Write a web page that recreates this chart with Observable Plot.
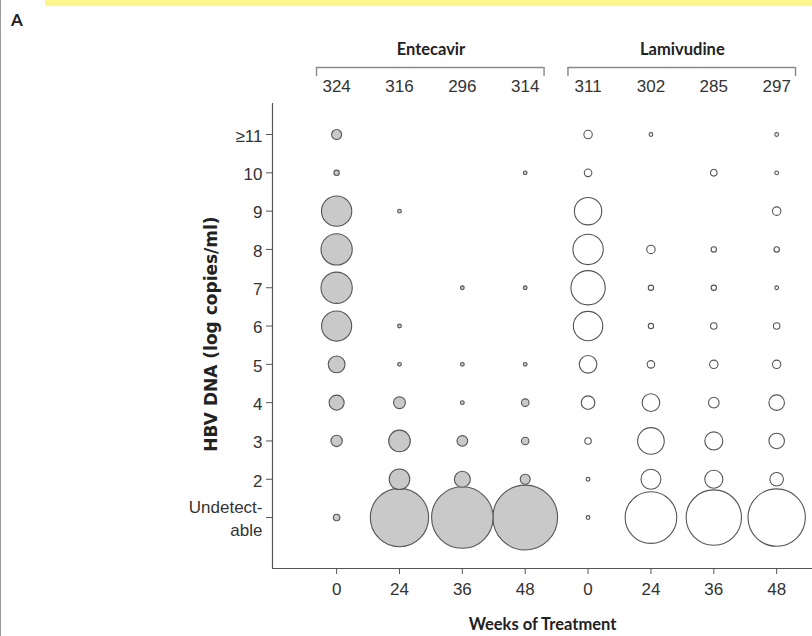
<!DOCTYPE html>
<html><head><meta charset="utf-8">
<script src="https://cdn.jsdelivr.net/npm/d3@7"></script>
<script src="https://cdn.jsdelivr.net/npm/@observablehq/plot@0.6"></script>
<style>
body{margin:0;background:#fff;}
#wrap{position:relative;width:812px;height:636px;overflow:hidden;background:#fff;}
#wrap svg{position:absolute;left:0;top:0;}
#bar{position:absolute;left:45px;top:0;width:767px;height:6px;background:#fcf68e;}
#edge{position:absolute;left:0;top:0;width:1px;height:636px;background:#9a9a9a;}
#panel{position:absolute;left:11px;top:9px;font:bold 17px Lato, "DejaVu Sans", sans-serif;color:#222;}
#wrap svg g[aria-label="y-axis tick label"] text,
#wrap svg g[aria-label="x-axis tick label"] text{
  font-family:"Liberation Sans Narrow","Liberation Sans",sans-serif !important;
  font-size:17px !important; fill:#333;
}
</style></head><body>
<div id="wrap"><div id="bar"></div><div id="edge"></div><div id="panel">A</div></div>
<script>
// ---- data ----
const drugs = ["Entecavir", "Lamivudine"];
const weeks = [0, 24, 36, 48];
const nEntecavir = [324, 316, 296, 314];
const nLamivudine = [311, 302, 285, 297];
const levels = ["Undetect-\nable", "2", "3", "4", "5", "6", "7", "8", "9", "10", "≥11"];
// patient counts per HBV DNA level (Undetectable, 2 ... 10, >=11)
const entecavirWk0  = [3, 0, 9, 16, 20, 64, 69, 69, 65, 2, 7];
const entecavirWk24 = [240, 30, 33, 10, 1, 1, 0, 0, 1, 0, 0];
const entecavirWk36 = [267, 18, 8, 1, 1, 0, 1, 0, 0, 0, 0];
const entecavirWk48 = [296, 7, 4, 4, 1, 0, 1, 0, 0, 1, 0];
const lamivudineWk0  = [1, 1, 3, 13, 22, 61, 83, 65, 53, 4, 5];
const lamivudineWk24 = [188, 28, 50, 22, 4, 2, 2, 5, 0, 0, 1];
const lamivudineWk36 = [216, 23, 23, 8, 5, 3, 2, 2, 0, 3, 0];
const lamivudineWk48 = [232, 13, 17, 17, 5, 3, 1, 2, 5, 1, 1];

// ---- tables built from the arrays ----
const countsByDrug = {
  Entecavir: [entecavirWk0, entecavirWk24, entecavirWk36, entecavirWk48],
  Lamivudine: [lamivudineWk0, lamivudineWk24, lamivudineWk36, lamivudineWk48]
};
const nByDrug = {Entecavir: nEntecavir, Lamivudine: nLamivudine};
const cols = [];
const cells = [];
drugs.forEach((drug, di) => {
  weeks.forEach((wk, wi) => {
    const col = di * weeks.length + wi;
    cols.push({drug, week: wk, col, n: nByDrug[drug][wi]});
    countsByDrug[drug][wi].forEach((c, li) => {
      if (c > 0) cells.push({drug, week: wk, col, level: li, count: c});
    });
  });
});
const groups = drugs.map((name, i) => ({name, start: i * weeks.length, end: i * weeks.length + weeks.length - 1}));
const bracketEnds = groups.flatMap(g => [g.start - 0.32, g.end + 0.3]);

const boldFont = 'Lato, "Open Sans", sans-serif';
const numFont = '"Liberation Sans Narrow", "Liberation Sans", sans-serif';
const xDomain = [-1.02, 7.57];
const yDomain = [-1.33, 10.81];
const ink = "#555";

const plot = Plot.plot({
  width: 812, height: 636,
  marginLeft: 272, marginRight: 0, marginTop: 103, marginBottom: 68,
  style: {background: "transparent"},
  x: {domain: xDomain, axis: null},
  y: {domain: yDomain, axis: null},
  r: {domain: [0, 300], range: [0, 32.6]},
  marks: [
    Plot.ruleX([xDomain[0]], {stroke: ink, strokeWidth: 1.2}),
    Plot.ruleY([yDomain[0]], {stroke: ink, strokeWidth: 1.2}),
    Plot.axisY({ticks: d3.range(levels.length), tickFormat: i => levels[i], tickSize: 6, tickPadding: 4,
      label: null, lineHeight: 1.35, stroke: ink}),
    Plot.axisX({ticks: d3.range(cols.length), tickFormat: i => weeks[i % weeks.length], tickSize: 6,
      tickPadding: 8, label: null, stroke: ink}),
    Plot.dot(cells.filter(d => d.drug === "Entecavir"), {x: "col", y: "level", r: "count",
      fill: "#c9c9c9", stroke: ink, strokeWidth: 1.1}),
    Plot.dot(cells.filter(d => d.drug === "Lamivudine"), {x: "col", y: "level", r: "count",
      fill: "#fff", stroke: ink, strokeWidth: 1.1}),
    // header
    Plot.text(groups, {x: d => (d.start + d.end) / 2, text: "name", frameAnchor: "top", lineAnchor: "middle", dy: -54,
      fontWeight: "bold", fontSize: 16.5, fontFamily: boldFont, fill: "#222"}),
    Plot.ruleY(groups, {y: yDomain[1], x1: d => d.start - 0.32, x2: d => d.end + 0.3, dy: -36,
      stroke: "#888", strokeWidth: 1.6}),
    Plot.ruleX(bracketEnds, {x: d => d, y1: yDomain[1], y2: yDomain[1], insetBottom: -9, dy: -36,
      stroke: "#888", strokeWidth: 1.4}),
    Plot.text(cols, {x: "col", text: "n", frameAnchor: "top", lineAnchor: "middle", dy: -17,
      fontSize: 17, fontFamily: numFont, fill: "#333"}),
    // axis titles
    Plot.text(["HBV DNA (log copies/ml)"], {frameAnchor: "left", textAnchor: "middle", lineAnchor: "middle",
      dx: -61, dy: -2, rotate: -90,
      fontWeight: "bold", fontSize: 17, fontFamily: '"DejaVu Sans", Verdana, sans-serif', fill: "#222"}),
    Plot.text(["Weeks of Treatment"], {frameAnchor: "bottom", lineAnchor: "middle", dy: 56,
      fontWeight: "bold", fontSize: 16.5, fontFamily: boldFont, fill: "#222"})
  ]
});
document.getElementById("wrap").prepend(plot);
</script>
</body></html>
